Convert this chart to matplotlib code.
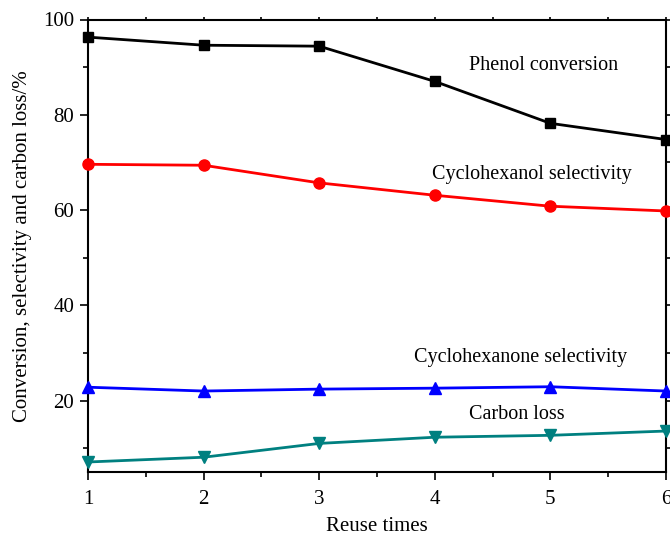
import matplotlib
matplotlib.use("Agg")
import matplotlib.pyplot as plt
from matplotlib.ticker import MultipleLocator

plt.rcParams['font.family'] = ['Liberation Serif', 'DejaVu Serif']

reuse = [1, 2, 3, 4, 5, 6]
phenol_conversion = [96.3, 94.6, 94.4, 87.0, 78.2, 74.8]
cyclohexanol_sel = [69.6, 69.4, 65.7, 63.1, 60.8, 59.8]
cyclohexanone_sel = [22.8, 22.0, 22.4, 22.6, 22.9, 22.0]
carbon_loss = [7.1, 8.1, 11.0, 12.3, 12.7, 13.6]

fig = plt.figure(figsize=(6.7, 5.36), dpi=100)
ax = fig.add_axes([88/670, 1-472/536, (666-88)/670, (472-19.5)/536])

lw = 2.0
ax.plot(reuse, phenol_conversion, color='black', marker='s', ms=7.5, lw=lw, clip_on=False, zorder=5)
ax.plot(reuse, cyclohexanol_sel, color='#ff0000', marker='o', ms=8, lw=lw, clip_on=False, zorder=5)
ax.plot(reuse, cyclohexanone_sel, color='#0000ff', marker='^', ms=8, lw=lw, clip_on=False, zorder=5)
ax.plot(reuse, carbon_loss, color='#008080', marker='v', ms=8, lw=lw, clip_on=False, zorder=5)

fs_ann = 14.5
ax.text(4.94, 90.3, 'Phenol conversion', ha='center', va='center', fontsize=fs_ann)
ax.text(4.84, 67.4, 'Cyclohexanol selectivity', ha='center', va='center', fontsize=fs_ann)
ax.text(4.74, 29.0, 'Cyclohexanone selectivity', ha='center', va='center', fontsize=fs_ann)
ax.text(4.71, 17.1, 'Carbon loss', ha='center', va='center', fontsize=fs_ann)

ax.set_xlim(1, 6)
ax.set_ylim(5, 100)
ax.xaxis.set_major_locator(MultipleLocator(1))
ax.xaxis.set_minor_locator(MultipleLocator(0.5))
ax.yaxis.set_major_locator(MultipleLocator(20))
ax.yaxis.set_minor_locator(MultipleLocator(10))
ax.tick_params(which='both', direction='out', top=True, right=True, labelsize=15, width=1.2)
ax.tick_params(axis='x', which='major', length=6, pad=7)
ax.tick_params(axis='y', which='major', length=6, pad=4)
ax.tick_params(which='minor', length=3.5)
ax.tick_params(which='both', top=True, right=True)
for t in ax.xaxis.get_major_ticks() + ax.xaxis.get_minor_ticks():
    t.tick2line.set_markersize(2.5)
for t in ax.yaxis.get_major_ticks() + ax.yaxis.get_minor_ticks():
    t.tick2line.set_markersize(4)
for s in ax.spines.values():
    s.set_linewidth(1.5)

ax.set_xlabel('Reuse times', fontsize=15, labelpad=6)
ax.set_ylabel('Conversion, selectivity and carbon loss/%', fontsize=15, labelpad=8)

fig.savefig('out.png', dpi=100)
